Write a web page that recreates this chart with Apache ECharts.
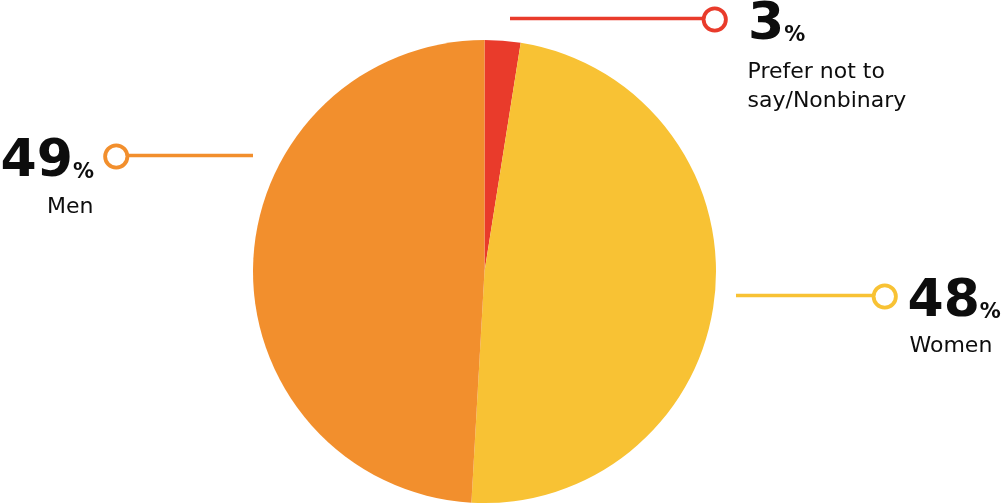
<!DOCTYPE html>
<html>
<head>
<meta charset="utf-8">
<script src="https://cdn.jsdelivr.net/npm/echarts@6/dist/echarts.min.js"></script>
<style>
  html, body { margin: 0; padding: 0; background: #ffffff; }
  #chart { width: 1005px; height: 504px; }
</style>
</head>
<body>
<div id="chart"></div>
<script>
// ---- data ----
const categories = ['Prefer not to\nsay/Nonbinary', 'Women', 'Men'];
const shares = [2.5, 48.4, 49.1];          // share of the circle, in percent

// ---- styles / layout (kept apart from the data) ----
const sliceColors = ['#E93B2B', '#F8C234', '#F28F2D'];
const TEXT = '#0d0d0d';
const FONT = 'DejaVu Sans';
const labelPlacement = [
  { align: 'left',  x: 705.5, m: 18.5,  lineFrom: 510, lineTo: 704, gap: 24,   indent: 42, drop: 36.4 },
  { align: 'left',  x: 875.5, m: 295.5, lineFrom: 736, lineTo: 874, gap: 13.5, indent: 34, drop: 34 },
  { align: 'right', x: 125.5, m: 155.5, lineFrom: 253, lineTo: 127, gap: 13,   indent: 32, drop: 34.4 }
];

const rich = {
  big: { fontFamily: FONT, fontWeight: 'bold', fontSize: 52, lineHeight: 52, color: TEXT, padding: [12, 0, 0, 0] },
  pct: { fontFamily: FONT, fontWeight: 'bold', fontSize: 21, color: TEXT, padding: [33, 0, 0, 0] },
  sub: { fontFamily: FONT, fontSize: 22, lineHeight: 29, verticalAlign: 'bottom', color: TEXT }
};
labelPlacement.forEach((p, i) => {
  rich['c' + i] = { width: 18.5, height: 18.5, lineHeight: 18.5, borderRadius: 10, borderWidth: 3.8,
                    borderColor: sliceColors[i], backgroundColor: '#ffffff' };
  rich['g' + i] = { width: p.gap, height: 10, lineHeight: 10 };
  rich['s' + i] = { width: p.indent, height: p.drop, lineHeight: p.drop };
  rich['t' + i] = { width: p.indent, height: 29, lineHeight: 29 };
});

function labelText(params) {
  const i = params.dataIndex;
  const p = labelPlacement[i];
  const v = Math.round(params.value);
  const subs = categories[i].split('\n');
  const lines = [];
  if (p.align === 'left') {
    lines.push(`{c${i}|}{g${i}|}{big|${v}}{pct|%}`);
    subs.forEach((s, k) => lines.push(`{${k === 0 ? 's' : 't'}${i}|}{sub|${s}}`));
  } else {
    lines.push(`{big|${v}}{pct|%}{g${i}|}{c${i}|}`);
    subs.forEach((s, k) => lines.push(`{sub|${s}}{${k === 0 ? 's' : 't'}${i}|}`));
  }
  return lines.join('\n');
}

const chart = echarts.init(document.getElementById('chart'), null, { renderer: 'canvas' });
chart.setOption({
  backgroundColor: '#ffffff',
  animation: false,
  series: [{
    type: 'pie',
    center: [484.5, 271.5],
    radius: 231.5,
    startAngle: 90,
    clockwise: true,
    avoidLabelOverlap: false,
    silent: true,
    emphasis: { disabled: true },
    itemStyle: { borderWidth: 0 },
    data: categories.map((name, i) => ({
      name: name,
      value: shares[i],
      itemStyle: { color: sliceColors[i] }
    })),
    label: {
      show: true,
      position: 'outside',
      formatter: labelText,
      rich: rich
    },
    labelLine: {
      show: true,
      smooth: false,
      lineStyle: { width: 3.5 }
    },
    labelLayout: function (params) {
      const p = labelPlacement[params.dataIndex];
      const mid = (p.lineFrom + p.lineTo) / 2;
      return {
        x: p.x,
        y: p.m - 26,
        align: p.align,
        verticalAlign: 'top',
        labelLinePoints: [[p.lineFrom, p.m], [mid, p.m], [p.lineTo, p.m]]
      };
    }
  }]
});
</script>
</body>
</html>
